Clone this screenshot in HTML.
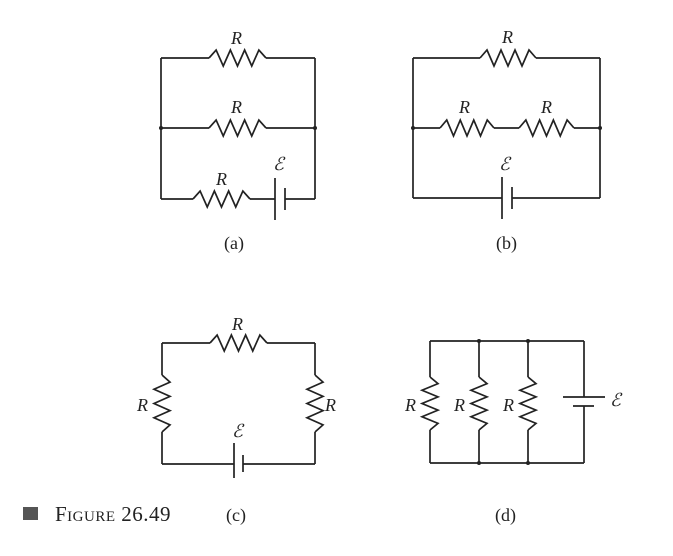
<!DOCTYPE html>
<html><head><style>
html,body{margin:0;padding:0;background:#fff;}
svg{display:block;}
text{font-family:"Liberation Serif",serif;fill:#222;}
.R{font-style:italic;font-size:18px;}
.E{font-style:italic;font-size:18px;}
.cap{font-size:18px;}
</style></head><body>
<svg id="s" width="673" height="556" viewBox="0 0 673 556" xmlns="http://www.w3.org/2000/svg">
<g id="g" stroke="#222" stroke-width="1.7" fill="none" stroke-linejoin="miter"></g>
<g fill="#222">
<circle cx="161" cy="128" r="2"/><circle cx="315" cy="128" r="2"/>
<circle cx="413" cy="128" r="2"/><circle cx="600" cy="128" r="2"/>
<circle cx="479" cy="341" r="2"/><circle cx="528" cy="341" r="2"/>
<circle cx="479" cy="463" r="2"/><circle cx="528" cy="463" r="2"/>
</g>
<text class="R" x="231" y="44">R</text>
<text class="R" x="231" y="113">R</text>
<text class="R" x="216" y="185">R</text>
<text class="E" x="273" y="170">ℰ</text>
<text class="cap" x="224" y="249">(a)</text>
<text class="R" x="502" y="43">R</text>
<text class="R" x="459" y="113">R</text>
<text class="R" x="541" y="113">R</text>
<text class="E" x="499" y="170">ℰ</text>
<text class="cap" x="496" y="249">(b)</text>
<text class="R" x="232" y="330">R</text>
<text class="R" x="137" y="411">R</text>
<text class="R" x="325" y="411">R</text>
<text class="E" x="232" y="437">ℰ</text>
<text class="cap" x="226" y="521">(c)</text>
<text class="R" x="405" y="411">R</text>
<text class="R" x="454" y="411">R</text>
<text class="R" x="503" y="411">R</text>
<text class="E" x="610" y="406">ℰ</text>
<text class="cap" x="495" y="521">(d)</text>
<rect x="23" y="507" width="15" height="13" fill="#555"/>
<text x="55" y="521" style="font-size:21px;font-variant:small-caps;letter-spacing:0.5px">Figure 26.49</text>
</svg>
<script>
var g=document.getElementById('g');
function P(pts){var e=document.createElementNS('http://www.w3.org/2000/svg','polyline');e.setAttribute('points',pts.map(function(p){return p.join(',')}).join(' '));g.appendChild(e);}
function L(x1,y1,x2,y2){P([[x1,y1],[x2,y2]]);}
function zh(x1,x2,y,n){n=n||7;var a=8,s=(x2-x1)/(n+1),p=[[x1,y]];for(var i=0;i<n;i++){p.push([x1+s*(i+1),y+(i%2?a:-a)]);}p.push([x2,y]);P(p);}
function zv(x,y1,y2,n){n=n||7;var a=8,s=(y2-y1)/(n+1),p=[[x,y1]];for(var i=0;i<n;i++){p.push([x+(i%2?-a:a),y1+s*(i+1)]);}p.push([x,y2]);P(p);}
// (a)
L(161,58,209,58);zh(209,266,58);L(266,58,315,58);
L(161,58,161,199);L(315,58,315,199);
L(161,128,209,128);zh(209,266,128);L(266,128,315,128);
L(161,199,193,199);zh(193,250,199);L(250,199,275,199);
L(275,178,275,220);L(285,188,285,210);L(285,199,315,199);
// (b)
L(413,58,480,58);zh(480,536,58);L(536,58,600,58);
L(413,58,413,198);L(600,58,600,198);
L(413,128,440,128);zh(440,494,128);L(494,128,519,128);zh(519,574,128);L(574,128,600,128);
L(413,198,502,198);L(502,177,502,219);L(512,187,512,209);L(512,198,600,198);
// (c)
L(162,343,210,343);zh(210,267,343);L(267,343,315,343);
L(162,343,162,375);zv(162,375,432);L(162,432,162,464);
L(315,343,315,375);zv(315,375,432);L(315,432,315,464);
L(162,464,234,464);L(234,443,234,478);L(243,455,243,472);L(243,464,315,464);
// (d)
L(430,341,584,341);L(430,463,584,463);
[430,479,528].forEach(function(x){L(x,341,x,377);zv(x,377,430);L(x,430,x,463);});
L(584,341,584,397);L(563,397,605,397);L(573,406,594,406);L(584,406,584,463);
</script>
</body></html>
